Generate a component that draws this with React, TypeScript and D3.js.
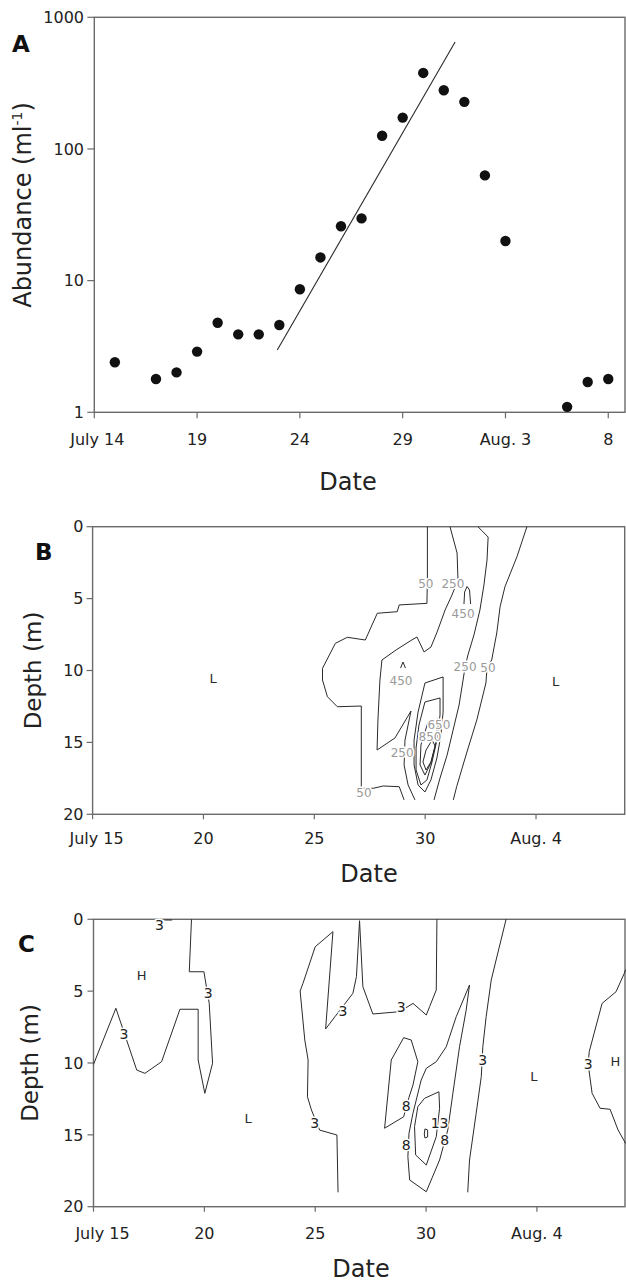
import React from 'react';
import * as d3 from 'd3';

const W = 626;
const H = 1284;
const FONT = '"DejaVu Sans", Verdana, sans-serif';

// ---------- Panel A data (days since July 14) ----------
const aDays = [1, 3, 4, 5, 6, 7, 8, 9, 10, 11, 12, 13, 14, 15, 16, 17, 18, 19, 20, 23, 24, 25];
const aAbundance = [2.4, 1.79, 2.01, 2.89, 4.79, 3.91, 3.91, 4.6, 8.6, 15.0, 25.9, 29.7, 126, 173, 378, 279, 228, 63, 20, 1.1, 1.7, 1.79];
const aFitDays = [8.9, 17.55];
const aFitValues = [2.97, 650];
const aTickDays = [0, 5, 10, 15, 20, 25];
const aTickLabels = ['July 14', '19', '24', '29', 'Aug. 3', '8'];
const aYTicks = [1, 10, 100, 1000];

// ---------- Panels B & C axes (days since July 15, depth m) ----------
const bcTickDays = [0, 5, 10, 15, 20];
const bcTickLabels = ['July 15', '20', '25', '30', 'Aug. 4'];
const depthTicks = [0, 5, 10, 15, 20];

// ---------- Panel B contours [day, depth] ----------
const b50Left: [number, number][] = [[15.1, 0], [15.1, 3.7], [15.08, 5.33], [13.83, 5.44], [13.74, 5.91], [12.84, 6.02], [12.3, 7.88], [11.49, 7.69], [10.95, 8.11], [10.37, 9.85], [10.37, 10.66], [10.59, 11.82], [11.04, 12.52], [12.12, 12.47], [12.12, 18.19], [12.66, 18.19], [13.11, 18.03], [13.83, 18.08], [14.05, 19]];
const b250Left: [number, number][] = [[16.12, 0], [16.44, 1.83], [16.48, 3.71], [16.21, 4.75], [15.9, 5.79], [15.54, 7.32], [15.26, 8.37], [14.95, 8.71], [14.63, 7.67], [14.32, 7.95], [13.69, 8.57], [13.05, 9.27], [12.96, 10.66], [12.87, 13.44], [12.83, 15.53], [13.64, 14.69], [14.36, 12.82], [14.09, 14.84], [14.05, 16.57], [14.23, 17.96], [14.54, 19]];
const b250Right: [number, number][] = [[17.38, 0], [17.84, 0.72], [17.79, 2.32], [17.65, 4.06], [17.47, 5.79], [17.2, 7.53], [16.93, 8.92], [16.8, 9.76], [16.71, 10.66], [16.53, 12.4], [16.26, 14.14], [15.99, 15.88], [15.67, 17.48], [15.4, 19]];
const b50Right: [number, number][] = [[19.59, 0], [19.14, 2.09], [18.6, 4.17], [18.38, 5.56], [18.23, 7.39], [18.0, 9.27], [17.79, 9.83], [17.74, 10.87], [17.33, 13.44], [16.87, 15.74], [16.42, 18.08], [16.27, 19]];
const b450Tip: [number, number][] = [[16.75, 5.38], [16.78, 4.54], [16.89, 4.16], [17.0, 4.4], [17.05, 5.38]];
const b450Caret: [number, number][] = [[13.89, 9.83], [14.0, 9.41], [14.11, 9.83]];
const b450Core: [number, number][] = [[14.99, 10.87], [15.81, 10.45], [15.81, 12.89], [15.71, 14.49], [15.53, 16.08], [15.26, 17.61], [14.99, 18.45], [14.68, 17.96], [14.5, 16.57], [14.5, 14.84], [14.68, 12.89]];
const b650Core: [number, number][] = [[14.99, 12.19], [15.67, 11.91], [15.67, 13.09], [15.53, 14.84], [15.31, 16.36], [15.08, 17.61], [14.81, 17.96], [14.59, 16.92], [14.59, 15.39], [14.72, 13.79]];
const b850Core: [number, number][] = [[15.13, 13.58], [15.58, 13.37], [15.49, 14.97], [15.26, 16.43], [14.99, 17.27], [14.77, 16.57], [14.81, 15.18]];
const b1050Core: [number, number][] = [[15.31, 14.84], [15.45, 15.25], [15.26, 16.36], [15.04, 16.92], [14.9, 16.36], [15.04, 15.53]];
const bContours = [
  { pts: b50Left, closed: false },
  { pts: b250Left, closed: false },
  { pts: b250Right, closed: false },
  { pts: b50Right, closed: false },
  { pts: b450Tip, closed: false },
  { pts: b450Caret, closed: false },
  { pts: b450Core, closed: true },
  { pts: b650Core, closed: true },
  { pts: b850Core, closed: true },
  { pts: b1050Core, closed: true },
];
const bLabels: [string, number, number][] = [
  ['50', 15.03, 3.99], ['250', 16.25, 3.99], ['450', 16.71, 6.07],
  ['250', 16.8, 9.76], ['50', 17.83, 9.83], ['450', 13.91, 10.73],
  ['650', 15.62, 13.75], ['850', 15.22, 14.62], ['250', 13.96, 15.74], ['50', 12.24, 18.5],
];
const bMarks: [string, number, number][] = [['L', 5.44, 10.54], ['L', 20.89, 10.78]];

// ---------- Panel C contours [day, depth] ----------
const cTopEdge: [number, number][] = [[3.2, 0.05], [3.55, 0.05]];
const cLeft3: [number, number][] = [[0, 10.1], [1.01, 6.19], [1.95, 10.49], [2.32, 10.72], [3.07, 9.91], [3.9, 6.26], [4.72, 6.26], [4.72, 9.79], [5.02, 12.11], [5.37, 10.02], [5.22, 5.85], [4.98, 3.65], [4.32, 3.65], [4.42, 0]];
const cMid3: [number, number][] = [[11.03, 19], [10.98, 15.01], [10.2, 14.67], [9.83, 13.27], [9.65, 12.35], [9.68, 9.79], [9.53, 8.4], [9.32, 4.99], [9.45, 4.45], [10.0, 1.91], [10.8, 0.86], [10.47, 7.63], [10.89, 6.78], [11.7, 5.15], [11.86, 3.99], [12.0, 0.1], [12.15, 4.69], [12.6, 6.59], [13.81, 6.43], [14.41, 5.85], [15.01, 6.66], [15.16, 6.08], [15.46, 4.92], [15.49, 0]];
const c8Left: [number, number][] = [[13.13, 14.54], [13.43, 9.79], [13.99, 8.24], [14.33, 8.4], [14.63, 9.91], [14.41, 11.53], [14.23, 12.39], [13.99, 13.74]];
const c8Right: [number, number][] = [[16.96, 4.57], [16.36, 6.78], [15.91, 8.87], [15.46, 9.91], [15.01, 10.37], [14.78, 11.18], [14.41, 13.5], [14.23, 14.89], [14.18, 16.52], [14.26, 18.14], [15.01, 18.96], [15.61, 16.75], [15.98, 14.66], [16.21, 12.11], [16.51, 8.87], [16.81, 6.31]];
const c13: [number, number][] = [[15.58, 12.0], [15.61, 13.15], [15.46, 15.13], [15.01, 17.1], [14.53, 16.4], [14.48, 14.43], [14.63, 13.04], [14.93, 12.46]];
const c18: [number, number][] = [[14.95, 14.59], [15.07, 14.66], [15.07, 15.15], [14.95, 15.22], [14.92, 14.94]];
const cRight3: [number, number][] = [[18.61, 0], [18.16, 2.83], [17.94, 4.22], [17.71, 6.78], [17.56, 8.87], [17.49, 10.95], [17.26, 13.5], [16.96, 16.75], [16.88, 19]];
const cEdge3: [number, number][] = [[24, 3.5], [23.94, 3.76], [23.57, 5.04], [22.94, 5.85], [22.58, 7.93], [22.36, 9.21], [22.31, 10.07], [22.49, 12.11], [22.85, 13.15], [23.3, 13.22], [23.66, 14.66], [24, 15.6]];
const cContours = [
  { pts: cTopEdge, closed: false },
  { pts: cLeft3, closed: false },
  { pts: cMid3, closed: false },
  { pts: c8Left, closed: true },
  { pts: c8Right, closed: true },
  { pts: c13, closed: true },
  { pts: c18, closed: true },
  { pts: cRight3, closed: false },
  { pts: cEdge3, closed: false },
];
const cLabels: [string, number, number][] = [
  ['3', 2.98, 0.4], ['3', 1.37, 7.98], ['3', 5.17, 5.15], ['3', 9.98, 14.15],
  ['3', 11.25, 6.38], ['3', 13.88, 6.07], ['8', 14.11, 12.99], ['8', 14.11, 15.71],
  ['8', 15.84, 15.36], ['13', 15.61, 14.2], ['3', 17.56, 9.79], ['3', 22.31, 10.07],
];
const cMarks: [string, number, number][] = [['H', 2.17, 3.87], ['L', 6.97, 13.85], ['L', 19.86, 10.95], ['H', 23.54, 9.91]];

const AXIS = '#6a6a6a';
const INK = '#2a2a2a';

type Pt = [number, number];

function Frame({ x0, x1, y0, y1 }: { x0: number; x1: number; y0: number; y1: number }) {
  return <rect x={x0} y={y0} width={x1 - x0} height={y1 - y0} fill="none" stroke={AXIS} strokeWidth={1.4} />;
}

function ContourPanel({ x, y, contours, labels, marks, labelFill, labelSize, letter, letterX, letterY, firstShift, tickBase, titleX, titleY, yTitleX }: any) {
  const [x0, x1] = x.range();
  const [y0, y1] = y.range();
  const line = d3.line<Pt>().x((d) => x(d[0])).y((d) => y(d[1]));
  const right = Math.min(x1, 625);
  const cy = (y0 + y1) / 2;
  return (
    <g>
      <Frame x0={x0} x1={right} y0={y0} y1={y1} />
      {contours.map((c: any, i: number) => (
        <path key={i} d={line(c.closed ? [...c.pts, c.pts[0]] : c.pts) || ''} fill="none" stroke={INK} strokeWidth={1} strokeLinejoin="round" />
      ))}
      {labels.map((l: any, i: number) => (
        <text key={i} x={x(l[1])} y={y(l[2])} dy="0.36em" textAnchor="middle" fontSize={labelSize} fontFamily={FONT}
          fill={labelFill} stroke="white" strokeWidth={3} paintOrder="stroke">{l[0]}</text>
      ))}
      {marks.map((m: any, i: number) => (
        <text key={i} x={x(m[1])} y={y(m[2])} dy="0.36em" textAnchor="middle" fontSize={13} fontFamily={FONT} fill={INK}>{m[0]}</text>
      ))}
      {depthTicks.map((t) => (
        <g key={t}>
          <line x1={x0 - 6} x2={x0} y1={y(t)} y2={y(t)} stroke={AXIS} strokeWidth={1.2} />
          <text x={83.5} y={y(t)} dy="0.36em" textAnchor="end" fontSize={16} fontFamily={FONT} fill="#222">{t}</text>
        </g>
      ))}
      {bcTickDays.map((t, i) => (
        <g key={t}>
          <line x1={x(t)} x2={x(t)} y1={y1} y2={y1 + 5} stroke={AXIS} strokeWidth={1.2} />
          <text x={x(t) + (i === 0 ? firstShift : 0)} y={tickBase} textAnchor="middle" fontSize={16} fontFamily={FONT} fill="#222">{bcTickLabels[i]}</text>
        </g>
      ))}
      <text x={titleX} y={titleY} textAnchor="middle" fontSize={24} fontFamily={FONT} fill="#222">Date</text>
      <text transform={`translate(${yTitleX},${cy}) rotate(-90)`} textAnchor="middle" fontSize={23} fontFamily={FONT} fill="#222">Depth (m)</text>
      <text x={letterX} y={letterY} fontSize={23} fontWeight="bold" fontFamily={FONT} fill="#111">{letter}</text>
    </g>
  );
}

export default function App() {
  const xA = d3.scaleLinear().domain([0, 25.8]).range([94.3, 624.7]);
  const yA = d3.scaleLog().domain([1, 1000]).range([412.3, 17.3]);
  const xB = d3.scaleLinear().domain([0, 24]).range([92.6, 624.7]);
  const yB = d3.scaleLinear().domain([0, 20]).range([526.7, 814.3]);
  const xC = d3.scaleLinear().domain([0, 24]).range([93.5, 625.6]);
  const yC = d3.scaleLinear().domain([0, 20]).range([919.3, 1206.7]);

  const fitLine = d3.line<number>().x((d) => xA(d)).y((_, i) => yA(aFitValues[i]));
  const [ax0] = xA.range();
  const [ay1, ay0] = yA.range();

  return (
    <svg width={W} height={H} viewBox={`0 0 ${W} ${H}`} style={{ position: 'absolute', left: 0, top: 0, background: 'white' }}>
      <rect x={0} y={0} width={W} height={H} fill="white" />
      {/* Panel A */}
      <g>
        <Frame x0={ax0} x1={625} y0={ay0} y1={ay1} />
        {aYTicks.map((t) => (
          <g key={t}>
            <line x1={ax0 - 7} x2={ax0} y1={yA(t)} y2={yA(t)} stroke={AXIS} strokeWidth={1.2} />
            <text x={84} y={yA(t)} dy="0.36em" textAnchor="end" fontSize={16} fontFamily={FONT} fill="#222">{t}</text>
          </g>
        ))}
        {aTickDays.map((t, i) => (
          <g key={t}>
            <line x1={xA(t)} x2={xA(t)} y1={ay1} y2={ay1 + 6} stroke={AXIS} strokeWidth={1.2} />
            <text x={xA(t) + (i === 0 ? 3 : 0)} y={445} textAnchor="middle" fontSize={16} fontFamily={FONT} fill="#222">{aTickLabels[i]}</text>
          </g>
        ))}
        <path d={fitLine(aFitDays) || ''} fill="none" stroke={INK} strokeWidth={1.1} />
        {aDays.map((d, i) => (
          <circle key={d} cx={xA(d)} cy={yA(aAbundance[i])} r={5.2} fill="#111" />
        ))}
        <text x={348} y={490} textAnchor="middle" fontSize={24} fontFamily={FONT} fill="#222">Date</text>
        <text transform="translate(31,205) rotate(-90)" textAnchor="middle" fontSize={24} fontFamily={FONT} fill="#222">
          Abundance (ml<tspan fontSize={14} dy={-9}>-1</tspan><tspan dy={9}>)</tspan>
        </text>
        <text x={12} y={52} fontSize={23} fontWeight="bold" fontFamily={FONT} fill="#111">A</text>
      </g>
      <ContourPanel x={xB} y={yB} contours={bContours} labels={bLabels} marks={bMarks} labelFill="#9a9a9a" labelSize={12}
        letter="B" letterX={35} letterY={560} firstShift={4} tickBase={844} titleX={369} titleY={882} yTitleX={41} />
      <ContourPanel x={xC} y={yC} contours={cContours} labels={cLabels} marks={cMarks} labelFill="#222" labelSize={14}
        letter="C" letterX={18} letterY={952} firstShift={9} tickBase={1239} titleX={361} titleY={1277} yTitleX={38} />
    </svg>
  );
}
